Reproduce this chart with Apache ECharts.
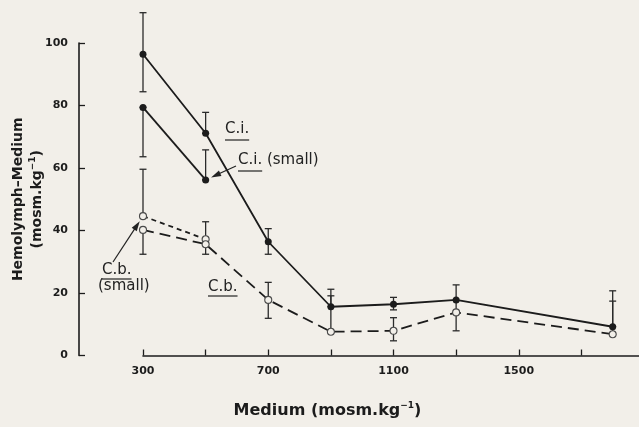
<!DOCTYPE html>
<html>
<head>
<meta charset="utf-8">
<script src="https://cdn.jsdelivr.net/npm/echarts@6/dist/echarts.min.js"></script>
<style>
  html, body { margin: 0; padding: 0; background: #f2efe9; }
  #chart { width: 639px; height: 427px; }
</style>
</head>
<body>
<div id="chart"></div>
<script>
// Medium osmolality (mosm.kg-1)
const medium = [300, 500, 700, 900, 1100, 1300, 1800];
const mediumSmall = [300, 500];

// C.i. — hemolymph minus medium, with error bar ends
const ciMean = [96.4, 71.1, 36.4, 15.6, 16.4, 17.8, 9.2];
const ciLow  = [84.4, 71.1, 32.4, 15.6, 14.6, 13.8, 9.2];
const ciHigh = [109.7, 77.8, 40.6, 21.2, 18.6, 22.6, 20.7];

// C.i. (small)
const ciSmallMean = [79.4, 56.2];
const ciSmallLow  = [63.6, 56.2];
const ciSmallHigh = [79.4, 65.8];

// C.b.
const cbMean = [40.2, 35.6, 17.8, 7.6, 7.9, 13.8, 6.8];
const cbLow  = [32.4, 32.4, 11.9, 7.6, 4.7, 7.9, 6.8];
const cbHigh = [40.2, 35.6, 23.4, 19.1, 12.1, 13.8, 17.4];

// C.b. (small)
const cbSmallMean = [44.6, 37.2];
const cbSmallLow  = [44.6, 37.2];
const cbSmallHigh = [59.6, 42.8];

// Axis ticks
const xTicks = [300, 500, 700, 900, 1100, 1300, 1500, 1700];
const xTickLabels = [300, 700, 1100, 1500];

const INK = '#1c1c1c';
const BG = '#f2efe9';
const FONT = '"DejaVu Sans", sans-serif';

const zip = (xs, ys) => xs.map((x, i) => [x, ys[i]]);
const spans = (xs, lo, hi) => xs.map((x, i) => [x, lo[i], hi[i]]);

function errorBars(data) {
  return {
    type: 'custom',
    data: data,
    z: 2,
    silent: true,
    animation: false,
    encode: { x: 0, y: [1, 2] },
    renderItem(params, api) {
      const x = api.value(0);
      const lo = api.coord([x, api.value(1)]);
      const hi = api.coord([x, api.value(2)]);
      const w = 3.5;
      const st = { stroke: '#2a2a2a', lineWidth: 1.3 };
      return {
        type: 'group',
        children: [
          { type: 'line', shape: { x1: lo[0], y1: lo[1], x2: hi[0], y2: hi[1] }, style: st },
          { type: 'line', shape: { x1: lo[0] - w, y1: lo[1], x2: lo[0] + w, y2: lo[1] }, style: st },
          { type: 'line', shape: { x1: hi[0] - w, y1: hi[1], x2: hi[0] + w, y2: hi[1] }, style: st }
        ]
      };
    }
  };
}

function lineSeries(data, filled, dash) {
  return {
    type: 'line',
    data: data,
    z: 5,
    animation: false,
    silent: true,
    symbol: 'circle',
    symbolSize: 7,
    showAllSymbol: true,
    itemStyle: filled
      ? { color: INK, borderColor: INK, borderWidth: 0 }
      : { color: BG, borderColor: '#4a4a4a', borderWidth: 1.1 },
    lineStyle: { color: INK, width: 1.8, type: dash || 'solid' }
  };
}

const chart = echarts.init(document.getElementById('chart'), null, { renderer: 'canvas' });

const supRich = { s: { fontSize: 9, lineHeight: 8, verticalAlign: 'top', fontFamily: FONT, fontWeight: 'bold', color: INK } };

chart.setOption({
  backgroundColor: BG,
  animation: false,
  grid: { left: 143, top: 43, width: 501, height: 312.5, containLabel: false, outerBoundsMode: 'none' },
  xAxis: {
    type: 'value',
    min: 300,
    max: 1900,
    axisLine: { show: true, onZero: false, lineStyle: { color: INK, width: 1.6 } },
    axisTick: { show: true, inside: true, length: 6, customValues: xTicks, lineStyle: { color: INK, width: 1.3 } },
    axisLabel: {
      customValues: xTickLabels, formatter: (v) => String(v),
      fontFamily: FONT, fontWeight: 'bold', fontSize: 11, color: INK, margin: 10
    },
    splitLine: { show: false },
    name: 'Medium (mosm.kg{s|−1})',
    nameLocation: 'middle',
    nameGap: 46,
    nameMoveOverlap: false,
    nameTextStyle: {
      fontFamily: FONT, fontSize: 16, fontWeight: 'bold', color: INK, lineHeight: 19,
      padding: [0, 132, 0, 0], rich: supRich
    }
  },
  yAxis: {
    type: 'value',
    min: 0,
    max: 100,
    interval: 20,
    offset: 64,
    axisLine: { show: true, onZero: false, lineStyle: { color: INK, width: 1.6 } },
    axisTick: { show: true, inside: true, length: 6, lineStyle: { color: INK, width: 1.3 } },
    axisLabel: { fontFamily: FONT, fontWeight: 'bold', fontSize: 11, color: INK, margin: 11 },
    splitLine: { show: false },
    name: 'Hemolymph–Medium\n(mosm.kg{s|−1})',
    nameLocation: 'middle',
    nameRotate: 90,
    nameGap: 32,
    nameMoveOverlap: false,
    nameTextStyle: {
      fontFamily: FONT, fontSize: 14, fontWeight: 'bold', color: INK, lineHeight: 19,
      align: 'center', rich: supRich
    }
  },
  series: [
    errorBars(spans(medium, ciLow, ciHigh)),
    errorBars(spans(mediumSmall, ciSmallLow, ciSmallHigh)),
    errorBars(spans(medium, cbLow, cbHigh)),
    errorBars(spans(mediumSmall, cbSmallLow, cbSmallHigh)),
    lineSeries(zip(mediumSmall, cbSmallMean), false, [5, 4]),
    lineSeries(zip(medium, cbMean), false, [11, 6]),
    lineSeries(zip(mediumSmall, ciSmallMean), true),
    lineSeries(zip(medium, ciMean), true)
  ]
});

// Series annotations with underlines and pointer arrows
const measureCtx = document.createElement('canvas').getContext('2d');
const LABEL_SIZE = 15;
measureCtx.font = LABEL_SIZE + 'px ' + FONT;
const textWidth = (t) => measureCtx.measureText(t).width;

const annotations = [
  { text: 'C.i.', x: 225, y: 129, under: 'C.i.', uy: 140 },
  { text: 'C.i. (small)', x: 238, y: 160, under: 'C.i.', uy: 171 },
  { text: 'C.b.', x: 102, y: 270, under: 'C.b.', uy: 279 },
  { text: '(small)', x: 98, y: 286 },
  { text: 'C.b.', x: 208, y: 287, under: 'C.b.', uy: 296 }
];

const graphics = [];
annotations.forEach(a => {
  graphics.push({
    type: 'text', x: a.x, y: a.y, silent: true, z: 20,
    style: { text: a.text, fontFamily: FONT, fontSize: LABEL_SIZE, fill: '#222', align: 'left', verticalAlign: 'middle' }
  });
  if (a.under) {
    graphics.push({
      type: 'line', silent: true, z: 20,
      shape: { x1: a.x, y1: a.uy, x2: a.x + textWidth(a.under), y2: a.uy },
      style: { stroke: '#222', lineWidth: 1.2 }
    });
  }
});

function arrow(from, target, gap) {
  const dx = target[0] - from[0], dy = target[1] - from[1];
  const len = Math.hypot(dx, dy);
  const ux = dx / len, uy = dy / len;
  const tip = [target[0] - ux * gap, target[1] - uy * gap];
  const base = [tip[0] - ux * 10, tip[1] - uy * 10];
  const px = -uy * 3, py = ux * 3;
  graphics.push({
    type: 'line', silent: true, z: 20,
    shape: { x1: from[0], y1: from[1], x2: base[0] + ux * 2, y2: base[1] + uy * 2 },
    style: { stroke: '#222', lineWidth: 1.2 }
  });
  graphics.push({
    type: 'polygon', silent: true, z: 20,
    shape: { points: [tip, [base[0] + px, base[1] + py], [base[0] - px, base[1] - py]] },
    style: { fill: '#222' }
  });
}

arrow([236, 166], chart.convertToPixel('grid', [mediumSmall[1], ciSmallMean[1]]), 6);
arrow([113, 262], chart.convertToPixel('grid', [mediumSmall[0], cbSmallMean[0]]), 6);

chart.setOption({ graphic: graphics });
</script>
</body>
</html>
